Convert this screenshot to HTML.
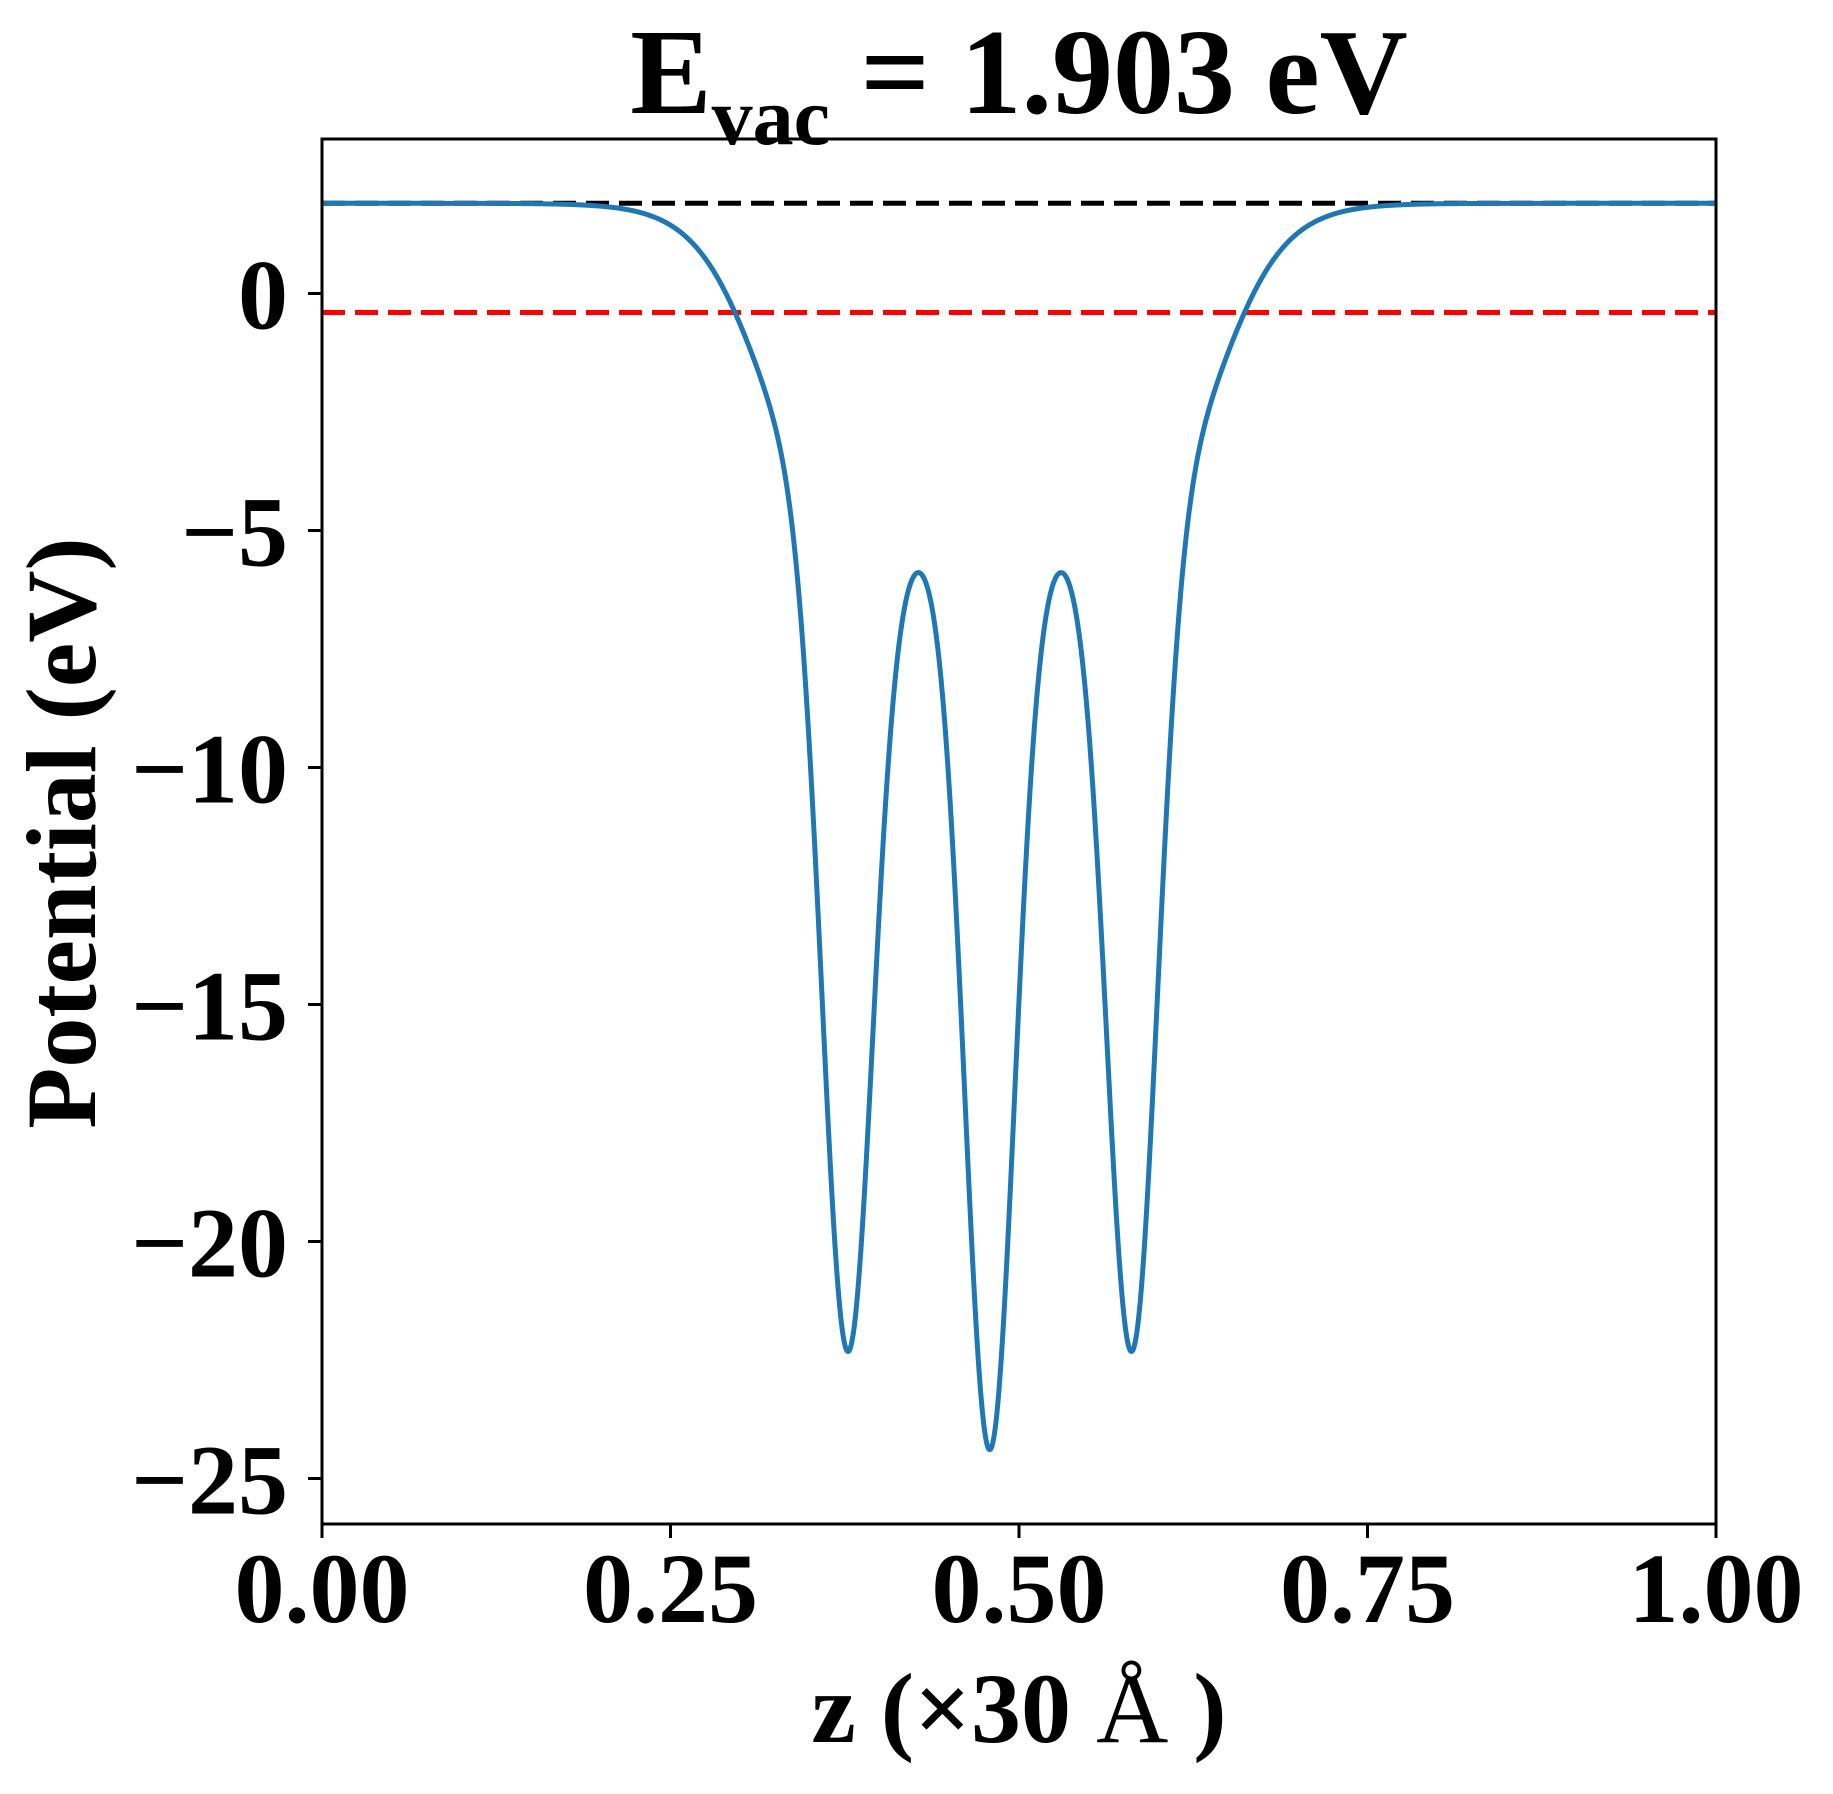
<!DOCTYPE html>
<html><head><meta charset="utf-8"><style>
html,body{margin:0;padding:0;background:#fff;}
svg{display:block;}
text{font-family:"Liberation Serif",serif;font-weight:bold;fill:#000;}
</style></head><body>
<svg id="s" width="1833" height="1794" viewBox="0 0 1833 1794" xmlns="http://www.w3.org/2000/svg">
<rect width="1833" height="1794" fill="#fff"/>
<g id="plot"></g>
<rect x="322" y="139" width="1394" height="1385" fill="none" stroke="#000" stroke-width="3"/>
<g id="ticks" stroke="#000" stroke-width="3"></g>
<g id="labels" font-size="100"></g>
<text x="1019" y="113" font-size="122" text-anchor="middle">E<tspan font-size="82" dy="31">vac</tspan><tspan dy="-31"> = 1.903 eV</tspan></text>
<text x="1019" y="1742" font-size="100" text-anchor="middle">z (×30 <tspan font-weight="normal">Å</tspan> )</text>
<text transform="translate(95,833) rotate(-90)" font-size="100" text-anchor="middle">Potential (eV)</text>
</svg>
<script>
var L=322,R=1716,T=139,B=1524;
function X(z){return L+(R-L)*z;}
function Y(v){return 293.5-47.4*v;}
var ns="http://www.w3.org/2000/svg";
function el(p,t,a){var e=document.createElementNS(ns,t);for(var k in a)e.setAttribute(k,a[k]);p.appendChild(e);return e;}
var plot=document.getElementById('plot'),ticks=document.getElementById('ticks'),labels=document.getElementById('labels');
el(plot,'line',{x1:L,x2:R,y1:Y(1.903),y2:Y(1.903),stroke:'#000','stroke-width':5,'stroke-dasharray':'23,10'});
el(plot,'line',{x1:L,x2:R,y1:Y(-0.4),y2:Y(-0.4),stroke:'#ff0000','stroke-width':5,'stroke-dasharray':'23,10'});
function V(z){
 var d=Math.abs(z-0.479);
 var Bv=7.1/(1+Math.exp((d-0.165)/0.024));
 var s=0.018,g=function(c,a){return a*Math.exp(-(z-c)*(z-c)/(2*s*s));};
 var s2=0.03,g2=function(c,a){return a*Math.exp(-(z-c)*(z-c)/(2*s2*s2));};
 return 1.903-Bv-g(0.377,17.2)-g(0.479,19.2)-g(0.581,17.2)-g2(0.377,0.4)-g2(0.581,0.4);
}
var p='';
for(var i=0;i<=2000;i++){var z=i/2000;p+=(i?'L':'M')+X(z).toFixed(2)+' '+Y(V(z)).toFixed(2);}
el(plot,'path',{d:p,fill:'none',stroke:'#1f77b4','stroke-width':5,'stroke-linejoin':'round'});
[0,0.25,0.5,0.75,1].forEach(function(z){
 var x=X(z);el(ticks,'line',{x1:x,x2:x,y1:B,y2:B+14});
 var t=el(labels,'text',{x:x,y:1622,'text-anchor':'middle'});t.textContent=z.toFixed(2);
});
[0,-5,-10,-15,-20,-25].forEach(function(v){
 var y=Y(v);el(ticks,'line',{x1:L-14,x2:L,y1:y,y2:y});
 var t=el(labels,'text',{x:288,y:y+35,'text-anchor':'end'});t.textContent=v<0?'\u2212'+(-v):'0';
});
</script>
</body></html>
